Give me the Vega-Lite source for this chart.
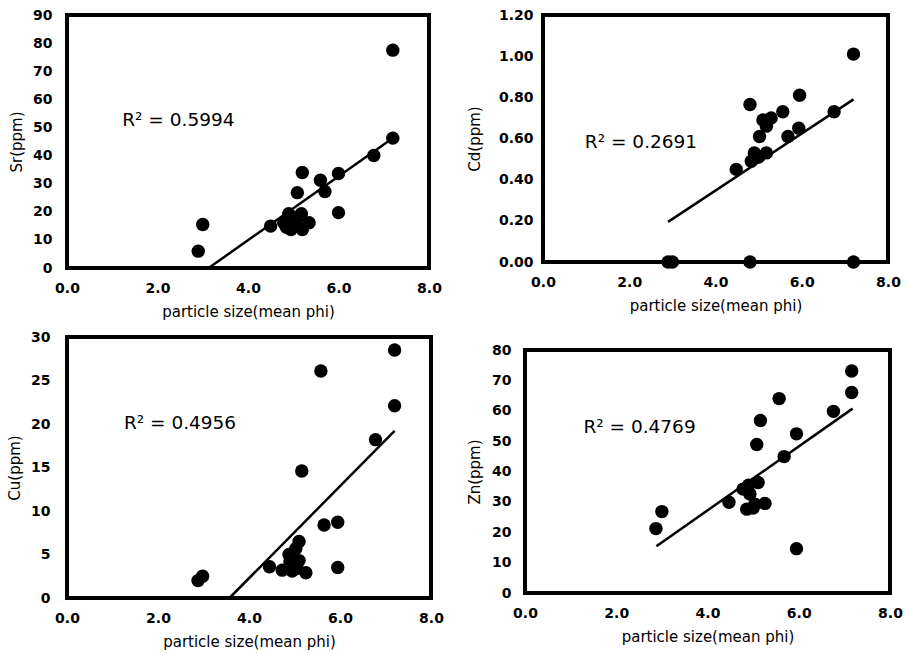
{
  "$schema": "https://vega.github.io/schema/vega-lite/v6.json",
  "background": "white",
  "padding": {"left": 5, "top": 6, "right": 5, "bottom": 5},
  "columns": 2,
  "align": "none",
  "spacing": {"row": 7, "column": 19},
  "datasets": {
    "sr": [
      {"phi": 2.9, "ppm": 6}, {"phi": 3.0, "ppm": 15.5}, {"phi": 4.5, "ppm": 14.9}, {"phi": 4.79, "ppm": 16.1},
      {"phi": 4.9, "ppm": 19.3}, {"phi": 4.95, "ppm": 13.7}, {"phi": 5.05, "ppm": 16}, {"phi": 5.2, "ppm": 13.7},
      {"phi": 5.18, "ppm": 19.3}, {"phi": 5.35, "ppm": 16.1}, {"phi": 4.85, "ppm": 14.5}, {"phi": 5.1, "ppm": 18},
      {"phi": 5.09, "ppm": 26.8}, {"phi": 5.2, "ppm": 34}, {"phi": 5.6, "ppm": 31.2}, {"phi": 5.7, "ppm": 27.2},
      {"phi": 6.0, "ppm": 33.6}, {"phi": 6.0, "ppm": 19.7}, {"phi": 6.78, "ppm": 40}, {"phi": 7.2, "ppm": 46.2},
      {"phi": 7.2, "ppm": 77.5}
    ],
    "srFit": [{"phi": 3.13, "ppm": 0}, {"phi": 7.18, "ppm": 46}],
    "cd": [
      {"phi": 2.9, "ppm": 0}, {"phi": 3.0, "ppm": 0}, {"phi": 4.8, "ppm": 0}, {"phi": 7.2, "ppm": 0},
      {"phi": 4.48, "ppm": 0.45}, {"phi": 4.83, "ppm": 0.49}, {"phi": 4.9, "ppm": 0.53}, {"phi": 5.0, "ppm": 0.51},
      {"phi": 5.18, "ppm": 0.53}, {"phi": 5.02, "ppm": 0.61}, {"phi": 5.18, "ppm": 0.66}, {"phi": 5.1, "ppm": 0.69},
      {"phi": 5.29, "ppm": 0.7}, {"phi": 4.8, "ppm": 0.765}, {"phi": 5.56, "ppm": 0.73}, {"phi": 5.68, "ppm": 0.61},
      {"phi": 5.93, "ppm": 0.65}, {"phi": 5.95, "ppm": 0.81}, {"phi": 6.75, "ppm": 0.73}, {"phi": 7.2, "ppm": 1.01}
    ],
    "cdFit": [{"phi": 2.9, "ppm": 0.195}, {"phi": 7.2, "ppm": 0.79}],
    "cu": [
      {"phi": 2.88, "ppm": 2.0}, {"phi": 2.98, "ppm": 2.5}, {"phi": 4.45, "ppm": 3.6}, {"phi": 4.73, "ppm": 3.2},
      {"phi": 4.95, "ppm": 3.1}, {"phi": 4.88, "ppm": 5.0}, {"phi": 5.03, "ppm": 5.7}, {"phi": 5.1, "ppm": 4.3},
      {"phi": 5.1, "ppm": 6.5}, {"phi": 5.25, "ppm": 2.9}, {"phi": 4.9, "ppm": 4.2}, {"phi": 5.05, "ppm": 3.4},
      {"phi": 5.16, "ppm": 14.6}, {"phi": 5.65, "ppm": 8.4}, {"phi": 5.95, "ppm": 8.7}, {"phi": 5.95, "ppm": 3.5},
      {"phi": 5.58, "ppm": 26.1}, {"phi": 6.78, "ppm": 18.2}, {"phi": 7.2, "ppm": 28.5}, {"phi": 7.2, "ppm": 22.1}
    ],
    "cuFit": [{"phi": 3.57, "ppm": 0}, {"phi": 7.2, "ppm": 19.2}],
    "zn": [
      {"phi": 2.87, "ppm": 21.2}, {"phi": 3.0, "ppm": 26.8}, {"phi": 4.47, "ppm": 29.9}, {"phi": 4.78, "ppm": 34.2},
      {"phi": 4.93, "ppm": 32.6}, {"phi": 5.11, "ppm": 36.4}, {"phi": 4.86, "ppm": 27.6}, {"phi": 5.04, "ppm": 29.2},
      {"phi": 5.26, "ppm": 29.5}, {"phi": 4.9, "ppm": 35.5}, {"phi": 5.0, "ppm": 28}, {"phi": 5.08, "ppm": 48.9},
      {"phi": 5.16, "ppm": 56.8}, {"phi": 5.57, "ppm": 64}, {"phi": 5.68, "ppm": 44.9}, {"phi": 5.95, "ppm": 52.4},
      {"phi": 5.95, "ppm": 14.6}, {"phi": 6.76, "ppm": 59.8}, {"phi": 7.16, "ppm": 73.1}, {"phi": 7.16, "ppm": 66}
    ],
    "znFit": [{"phi": 2.88, "ppm": 15.4}, {"phi": 7.18, "ppm": 60.7}]
  },
  "concat": [
    {
      "width": 362, "height": 253,
      "layer": [
        {"data": {"name": "sr"}, "mark": {"type": "circle", "color": "black", "opacity": 1, "size": 180},
         "encoding": {
           "x": {"field": "phi", "type": "quantitative", "scale": {"domain": [0, 8], "nice": false}, "axis": {"values": [0, 2, 4, 6, 8], "format": ".1f"}, "title": "particle size(mean phi)"},
           "y": {"field": "ppm", "type": "quantitative", "scale": {"domain": [0, 90], "nice": false}, "axis": {"values": [0, 10, 20, 30, 40, 50, 60, 70, 80, 90], "labelPadding": 15, "titlePadding": 8}, "title": "Sr(ppm)"}
         }},
        {"data": {"name": "srFit"}, "mark": {"type": "line", "color": "black", "strokeWidth": 2.5},
         "encoding": {
           "x": {"field": "phi", "type": "quantitative", "scale": {"domain": [0, 8], "nice": false}, "axis": {"values": [0, 2, 4, 6, 8], "format": ".1f"}, "title": "particle size(mean phi)"},
           "y": {"field": "ppm", "type": "quantitative", "scale": {"domain": [0, 90], "nice": false}, "axis": {"values": [0, 10, 20, 30, 40, 50, 60, 70, 80, 90], "labelPadding": 15, "titlePadding": 8}, "title": "Sr(ppm)"}
         }},
        {"data": {"values": [{"label": "R² = 0.5994"}]},
         "mark": {"type": "text", "align": "left", "baseline": "middle", "fontSize": 18.5, "color": "black"},
         "encoding": {
           "x": {"datum": 1.22, "type": "quantitative", "scale": {"domain": [0, 8], "nice": false}, "axis": {"values": [0, 2, 4, 6, 8], "format": ".1f"}, "title": "particle size(mean phi)"},
           "y": {"datum": 52.5, "type": "quantitative", "scale": {"domain": [0, 90], "nice": false}, "axis": {"values": [0, 10, 20, 30, 40, 50, 60, 70, 80, 90], "labelPadding": 15, "titlePadding": 8}, "title": "Sr(ppm)"},
           "text": {"field": "label", "type": "nominal"}
         }}
      ]
    },
    {
      "width": 345, "height": 247,
      "layer": [
        {"data": {"name": "cd"}, "mark": {"type": "circle", "color": "black", "opacity": 1, "size": 180},
         "encoding": {
           "x": {"field": "phi", "type": "quantitative", "scale": {"domain": [0, 8], "nice": false}, "axis": {"values": [0, 2, 4, 6, 8], "format": ".1f"}, "title": "particle size(mean phi)"},
           "y": {"field": "ppm", "type": "quantitative", "scale": {"domain": [0, 1.2], "nice": false}, "axis": {"values": [0, 0.2, 0.4, 0.6, 0.8, 1.0, 1.2], "format": ".2f", "labelPadding": 10, "titlePadding": 16}, "title": "Cd(ppm)"}
         }},
        {"data": {"name": "cdFit"}, "mark": {"type": "line", "color": "black", "strokeWidth": 2.5},
         "encoding": {
           "x": {"field": "phi", "type": "quantitative", "scale": {"domain": [0, 8], "nice": false}, "axis": {"values": [0, 2, 4, 6, 8], "format": ".1f"}, "title": "particle size(mean phi)"},
           "y": {"field": "ppm", "type": "quantitative", "scale": {"domain": [0, 1.2], "nice": false}, "axis": {"values": [0, 0.2, 0.4, 0.6, 0.8, 1.0, 1.2], "format": ".2f", "labelPadding": 10, "titlePadding": 16}, "title": "Cd(ppm)"}
         }},
        {"data": {"values": [{"label": "R² = 0.2691"}]},
         "mark": {"type": "text", "align": "left", "baseline": "middle", "fontSize": 18.5, "color": "black"},
         "encoding": {
           "x": {"datum": 0.97, "type": "quantitative", "scale": {"domain": [0, 8], "nice": false}, "axis": {"values": [0, 2, 4, 6, 8], "format": ".1f"}, "title": "particle size(mean phi)"},
           "y": {"datum": 0.585, "type": "quantitative", "scale": {"domain": [0, 1.2], "nice": false}, "axis": {"values": [0, 0.2, 0.4, 0.6, 0.8, 1.0, 1.2], "format": ".2f", "labelPadding": 10, "titlePadding": 16}, "title": "Cd(ppm)"},
           "text": {"field": "label", "type": "nominal"}
         }}
      ]
    },
    {
      "width": 364, "height": 261,
      "layer": [
        {"data": {"name": "cu"}, "mark": {"type": "circle", "color": "black", "opacity": 1, "size": 180},
         "encoding": {
           "x": {"field": "phi", "type": "quantitative", "scale": {"domain": [0, 8], "nice": false}, "axis": {"values": [0, 2, 4, 6, 8], "format": ".1f"}, "title": "particle size(mean phi)"},
           "y": {"field": "ppm", "type": "quantitative", "scale": {"domain": [0, 30], "nice": false}, "axis": {"values": [0, 5, 10, 15, 20, 25, 30], "labelPadding": 17, "titlePadding": 8}, "title": "Cu(ppm)"}
         }},
        {"data": {"name": "cuFit"}, "mark": {"type": "line", "color": "black", "strokeWidth": 2.5},
         "encoding": {
           "x": {"field": "phi", "type": "quantitative", "scale": {"domain": [0, 8], "nice": false}, "axis": {"values": [0, 2, 4, 6, 8], "format": ".1f"}, "title": "particle size(mean phi)"},
           "y": {"field": "ppm", "type": "quantitative", "scale": {"domain": [0, 30], "nice": false}, "axis": {"values": [0, 5, 10, 15, 20, 25, 30], "labelPadding": 17, "titlePadding": 8}, "title": "Cu(ppm)"}
         }},
        {"data": {"values": [{"label": "R² = 0.4956"}]},
         "mark": {"type": "text", "align": "left", "baseline": "middle", "fontSize": 18.5, "color": "black"},
         "encoding": {
           "x": {"datum": 1.25, "type": "quantitative", "scale": {"domain": [0, 8], "nice": false}, "axis": {"values": [0, 2, 4, 6, 8], "format": ".1f"}, "title": "particle size(mean phi)"},
           "y": {"datum": 20.1, "type": "quantitative", "scale": {"domain": [0, 30], "nice": false}, "axis": {"values": [0, 5, 10, 15, 20, 25, 30], "labelPadding": 17, "titlePadding": 8}, "title": "Cu(ppm)"},
           "text": {"field": "label", "type": "nominal"}
         }}
      ]
    },
    {
      "width": 365, "height": 243,
      "title": {"text": " ", "fontSize": 11, "offset": 2},
      "layer": [
        {"data": {"name": "zn"}, "mark": {"type": "circle", "color": "black", "opacity": 1, "size": 180},
         "encoding": {
           "x": {"field": "phi", "type": "quantitative", "scale": {"domain": [0, 8], "nice": false}, "axis": {"values": [0, 2, 4, 6, 8], "format": ".1f"}, "title": "particle size(mean phi)"},
           "y": {"field": "ppm", "type": "quantitative", "scale": {"domain": [0, 80], "nice": false}, "axis": {"values": [0, 10, 20, 30, 40, 50, 60, 70, 80], "labelPadding": 14, "titlePadding": 9}, "title": "Zn(ppm)"}
         }},
        {"data": {"name": "znFit"}, "mark": {"type": "line", "color": "black", "strokeWidth": 2.5},
         "encoding": {
           "x": {"field": "phi", "type": "quantitative", "scale": {"domain": [0, 8], "nice": false}, "axis": {"values": [0, 2, 4, 6, 8], "format": ".1f"}, "title": "particle size(mean phi)"},
           "y": {"field": "ppm", "type": "quantitative", "scale": {"domain": [0, 80], "nice": false}, "axis": {"values": [0, 10, 20, 30, 40, 50, 60, 70, 80], "labelPadding": 14, "titlePadding": 9}, "title": "Zn(ppm)"}
         }},
        {"data": {"values": [{"label": "R² = 0.4769"}]},
         "mark": {"type": "text", "align": "left", "baseline": "middle", "fontSize": 18.5, "color": "black"},
         "encoding": {
           "x": {"datum": 1.28, "type": "quantitative", "scale": {"domain": [0, 8], "nice": false}, "axis": {"values": [0, 2, 4, 6, 8], "format": ".1f"}, "title": "particle size(mean phi)"},
           "y": {"datum": 54.6, "type": "quantitative", "scale": {"domain": [0, 80], "nice": false}, "axis": {"values": [0, 10, 20, 30, 40, 50, 60, 70, 80], "labelPadding": 14, "titlePadding": 9}, "title": "Zn(ppm)"},
           "text": {"field": "label", "type": "nominal"}
         }}
      ]
    }
  ],
  "config": {
    "font": "DejaVu Sans",
    "view": {"stroke": "black", "strokeWidth": 4},
    "text": {"font": "DejaVu Sans"},
    "axis": {
      "grid": false, "domain": false, "ticks": false, "labelFlush": false,
      "labelFont": "DejaVu Sans", "labelFontSize": 14, "labelFontWeight": "bold", "labelColor": "black",
      "titleFont": "DejaVu Sans", "titleFontSize": 15, "titleFontWeight": "normal", "titleColor": "black"
    },
    "axisX": {"labelPadding": 13, "titlePadding": 9}
  }
}
